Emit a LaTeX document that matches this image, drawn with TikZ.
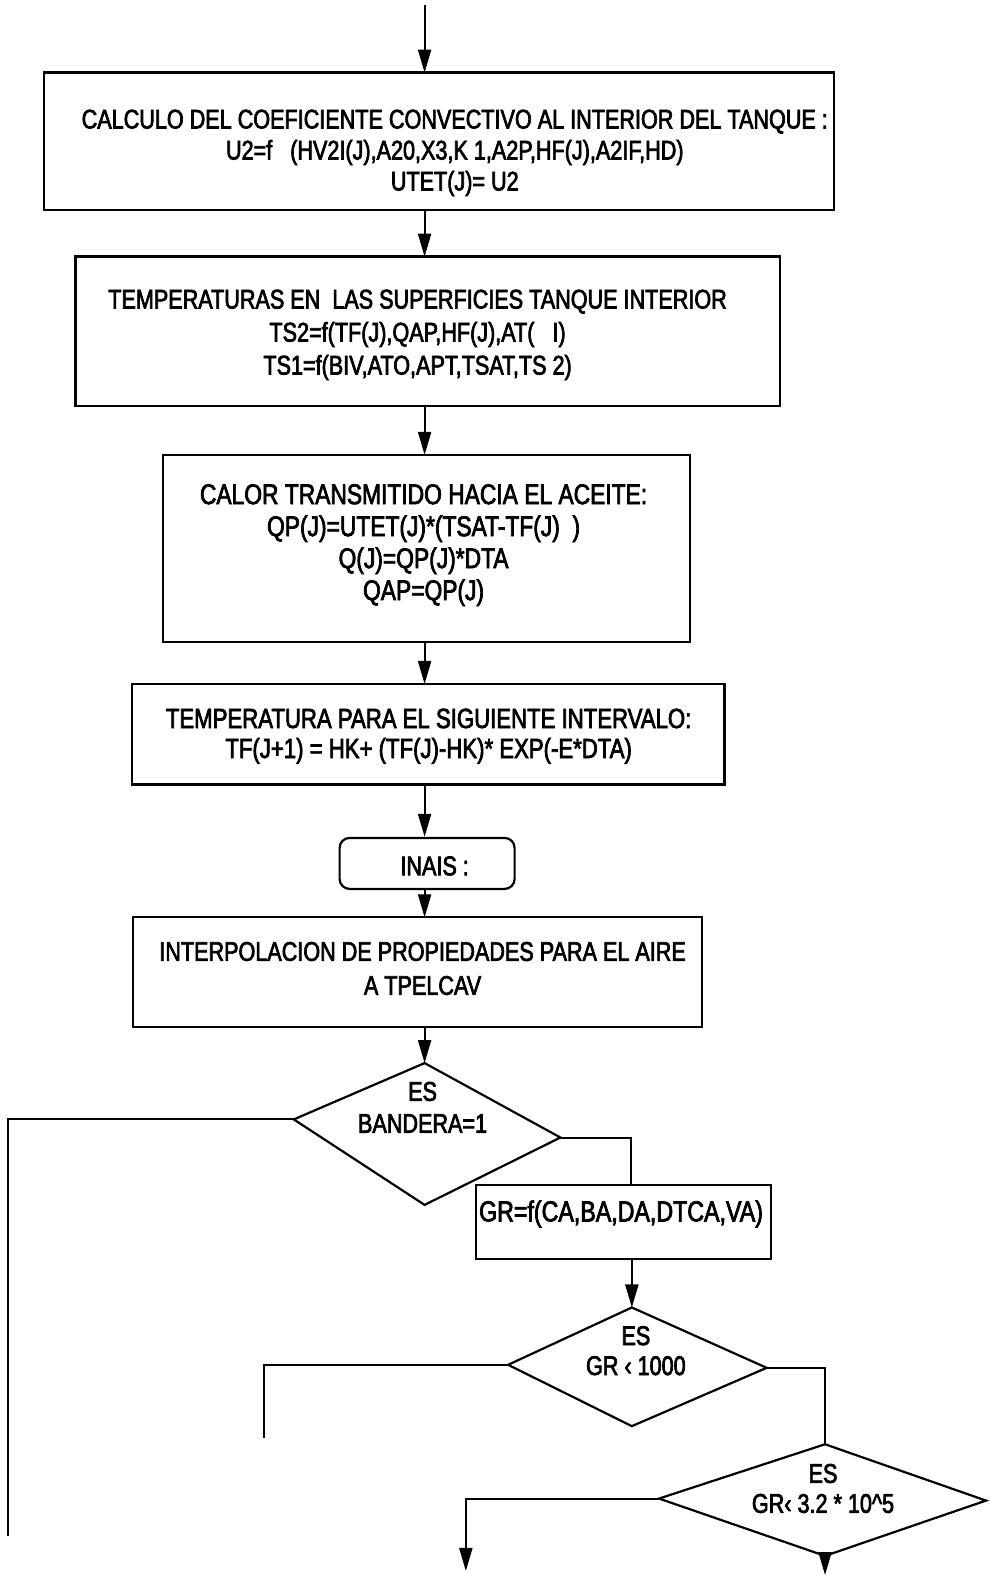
\documentclass[tikz,border=0pt]{standalone}
\usepackage{fontspec}
\newfontfamily\cad[FakeStretch=0.80,FakeBold=2.5]{Liberation Sans}
\usetikzlibrary{arrows.meta,calc}
\begin{document}
\begin{tikzpicture}[x=1.0061pt,y=-1.0057pt,
  box/.style={draw,line width=2.2pt,inner sep=0pt,rectangle},
  txt/.style={font=\cad\fontsize{27}{31}\selectfont,inner sep=0pt,align=center},
  flow/.style={line width=2pt},
  arr/.style={line width=2pt,-{Triangle[length=23pt,width=13pt]}},
  dia/.style={line width=2.2pt,line join=miter}]
\useasboundingbox (0,0) rectangle (984,1568);
\coordinate (ax) at (422,0);
\coordinate (start) at (422,5);
% box 1
\draw[box] (44,72) rectangle (829,209);
\node[minimum width=785pt,minimum height=137pt,inner sep=0pt] (b1) at (436.5,140.5) {};
\node[txt] (t1) at (452,152) {CALCULO DEL COEFICIENTE CONVECTIVO AL INTERIOR DEL TANQUE :\\U2=f\ \ \ (HV2I(J),A20,X3,K 1,A2P,HF(J),A2IF,HD)\\UTET(J)= U2};
% box 2
\draw[box] (75,255) rectangle (775,404);
\node[minimum width=700pt,minimum height=149pt,inner sep=0pt] (b2) at (425,329.5) {};
\node[txt,font=\cad\fontsize{27}{33}\selectfont] (t2) at (415,333) {TEMPERATURAS EN\ \ LAS SUPERFICIES TANQUE INTERIOR\\TS2=f(TF(J),QAP,HF(J),AT(\ \ \ I)\\TS1=f(BIV,ATO,APT,TSAT,TS 2)};
% box 3
\draw[box] (162,452) rectangle (686,638);
\node[minimum width=524pt,minimum height=186pt,inner sep=0pt] (b3) at (424,545) {};
\node[txt,font=\cad\fontsize{28.5}{32}\selectfont] (t3) at (421,542) {CALOR TRANSMITIDO HACIA EL ACEITE:\\QP(J)=UTET(J)*(TSAT-TF(J)\ \ )\\Q(J)=QP(J)*DTA\\QAP=QP(J)};
% box 4
\draw[box] (131,680) rectangle (720,780);
\node[minimum width=589pt,minimum height=100pt,inner sep=0pt] (b4) at (425.5,730) {};
\node[txt,font=\cad\fontsize{27.7}{30}\selectfont] (t4) at (426,732) {TEMPERATURA PARA EL SIGUIENTE INTERVALO:\\TF(J+1) = HK+ (TF(J)-HK)* EXP(-E*DTA)};
% INAIS
\node[draw,line width=2.2pt,rounded corners=10pt,minimum width=175pt,minimum height=51pt,inner sep=0pt] (ina) at (424.5,858.5) {};
\node[txt] (tina) at (432,861) {INAIS :};
% box 5
\draw[box] (132,912) rectangle (698,1021);
\node[minimum width=566pt,minimum height=109pt,inner sep=0pt] (b5) at (415,966.5) {};
\node[txt,font=\cad\fontsize{27}{34}\selectfont] (t5) at (420,963) {INTERPOLACION DE PROPIEDADES PARA EL AIRE\\A TPELCAV};
% diamond 1
\coordinate (d1t) at (422,1057);
\coordinate (d1r) at (557,1131);
\coordinate (d1b) at (422,1198);
\coordinate (d1l) at (292,1113);
\draw[dia] (d1t) -- (d1r) -- (d1b) -- (d1l) -- cycle;
\node[txt,font=\cad\fontsize{27}{32}\selectfont] (td1) at (420,1101) {ES\\BANDERA=1};
% GR box
\draw[box] (473,1178) rectangle (766,1252);
\node[minimum width=293pt,minimum height=74pt,inner sep=0pt] (gr) at (619.5,1215) {};
\node[txt,anchor=west,font=\cad\fontsize{29}{31}\selectfont] (tgr) at (476,1207) {GR=f(CA,BA,DA,DTCA,VA)};
% diamond 2
\coordinate (d2t) at (628,1300);
\coordinate (d2r) at (762,1360);
\coordinate (d2b) at (628,1418);
\coordinate (d2l) at (505,1357);
\draw[dia] (d2t) -- (d2r) -- (d2b) -- (d2l) -- cycle;
\node[txt,font=\cad\fontsize{27}{30}\selectfont] (td2) at (632,1343) {ES\\GR \char"2039\ 1000};
% diamond 3
\coordinate (d3t) at (820,1436);
\coordinate (d3r) at (980,1492);
\coordinate (d3b) at (820,1547);
\coordinate (d3l) at (655,1490);
\draw[dia] (d3t) -- (d3r) -- (d3b) -- (d3l) -- cycle;
\node[txt,font=\cad\fontsize{27}{30}\selectfont] (td3) at (818,1480) {ES\\GR\char"2039\ 3.2 * 10\textasciicircum 5};
% loose ends
\coordinate (e1) at (8,1527);
\coordinate (e2) at (262,1430);
\coordinate (e3) at (463,1562);
\coordinate (e4) at (820,1566);
% connectors
\draw[arr] (start) -- (b1.north -| ax);
\draw[arr] (b1.south -| ax) -- (b2.north -| ax);
\draw[arr] (b2.south -| ax) -- (b3.north -| ax);
\draw[arr] (b3.south -| ax) -- (b4.north -| ax);
\draw[arr] (b4.south -| ax) -- (ina.north -| ax);
\draw[arr] (ina.south -| ax) -- (b5.north -| ax);
\draw[arr] (b5.south -| ax) -- (d1t);
\draw[flow] (d1l) -- (d1l -| e1) -- (e1);
\draw[flow] (d1r) -- (d1r -| 627,0) -- (gr.north -| 627,0);
\draw[arr] (gr.south -| d2t) -- (d2t);
\draw[flow] (d2l) -- (d2l -| e2) -- (e2);
\draw[flow] (d2r) -- (d2r -| d3t) -- (d3t);
\draw[arr] (d3l) -- (d3l -| e3) -- (e3);
\draw[arr] (d3b) -- (e4);
\end{tikzpicture}
\end{document}
